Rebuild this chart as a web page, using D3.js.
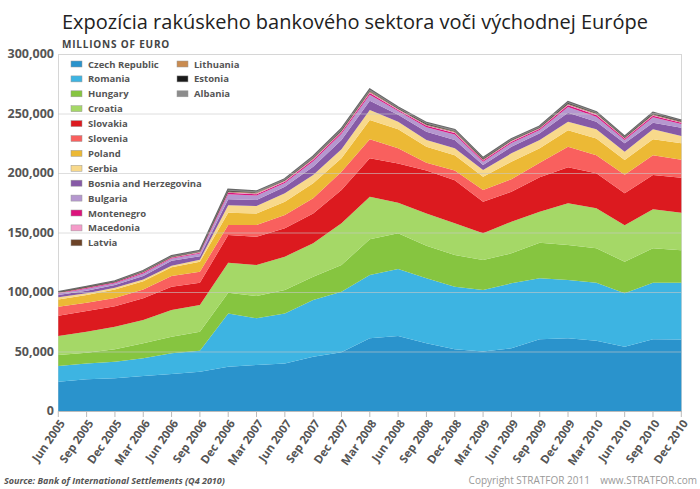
<!DOCTYPE html>
<html>
<head>
<meta charset="utf-8">
<script src="https://cdn.jsdelivr.net/npm/d3@7"></script>
<style>
body { margin: 0; background: #fff; }
svg { display: block; }
</style>
</head>
<body>
<svg id="chart" width="700" height="489"></svg>
<script>
// quarters on the x axis
var quarters = ["Jun 2005", "Sep 2005", "Dec 2005", "Mar 2006", "Jun 2006", "Sep 2006", "Dec 2006",
  "Mar 2007", "Jun 2007", "Sep 2007", "Dec 2007", "Mar 2008", "Jun 2008", "Sep 2008", "Dec 2008",
  "Mar 2009", "Jun 2009", "Sep 2009", "Dec 2009", "Mar 2010", "Jun 2010", "Sep 2010", "Dec 2010"];

// millions of euro
var czech = [24600, 26600, 27500, 29400, 31000, 33000, 37200, 38700, 40000, 45600, 49300, 61100, 63000, 56900, 51800, 49900, 52700, 60200, 61100, 59000, 54000, 60200, 60000];
var romania = [13200, 13400, 13900, 14900, 17500, 17700, 44800, 39200, 42000, 47700, 51000, 53200, 56300, 54600, 52700, 51800, 54600, 51300, 48900, 48800, 44900, 47600, 47800];
var hungary = [9200, 9000, 10400, 12600, 13900, 15900, 17400, 18700, 19700, 19600, 22400, 30000, 30000, 27400, 26500, 25200, 25200, 29900, 29500, 28900, 26600, 28900, 27200];
var croatia = [16000, 17600, 19000, 19600, 22500, 22400, 25200, 26100, 28000, 28000, 35000, 35700, 25700, 27100, 26700, 22400, 26500, 26100, 35000, 33600, 30500, 32800, 31600];
var slovakia = [17000, 17400, 17200, 18200, 19600, 18800, 23300, 23800, 23800, 25100, 28000, 32300, 33000, 36000, 36300, 26600, 25300, 28900, 30300, 29400, 27000, 28800, 29500];
var slovenia = [7700, 7000, 7000, 7300, 8900, 9200, 8400, 9800, 11200, 12700, 15300, 16000, 12700, 6700, 8000, 9800, 10400, 12300, 17200, 15300, 15500, 16700, 15000];
var poland = [6100, 6500, 7000, 7000, 7300, 8500, 10400, 9700, 11200, 12600, 11300, 16200, 16000, 13300, 13000, 11200, 14800, 12000, 14000, 14000, 12400, 13300, 14000];
var serbia = [1700, 1500, 1500, 1500, 1300, 1500, 6300, 6300, 7000, 7000, 7600, 8500, 6300, 5700, 5700, 5600, 7000, 7000, 7000, 7700, 7000, 8400, 6000];
var bosnia = [2000, 2000, 2400, 2900, 4300, 3000, 5000, 5000, 5600, 7000, 7800, 7800, 6000, 7000, 7000, 4200, 5500, 5600, 7600, 6300, 7000, 5500, 7000];
var bulgaria = [1200, 1800, 1500, 2200, 1800, 2300, 4200, 3800, 3200, 4600, 5200, 5000, 3000, 3800, 4600, 2800, 3200, 2800, 4800, 4300, 2800, 4600, 3000];
var montenegro = [400, 500, 500, 700, 600, 700, 1200, 1100, 1000, 1300, 1400, 1500, 1000, 1200, 1300, 1000, 1100, 1000, 1500, 1400, 1000, 1400, 1100];
var macedonia = [200, 300, 300, 300, 300, 400, 500, 500, 500, 600, 600, 600, 500, 500, 600, 500, 500, 500, 600, 600, 500, 600, 500];
var latvia = [100, 200, 200, 200, 200, 200, 300, 300, 300, 300, 400, 400, 300, 300, 300, 300, 300, 300, 400, 300, 300, 300, 300];
var lithuania = [100, 100, 100, 200, 200, 200, 300, 300, 200, 300, 300, 300, 200, 300, 300, 200, 200, 200, 300, 300, 200, 300, 200];
var estonia = [200, 300, 200, 300, 300, 300, 500, 400, 400, 500, 600, 600, 400, 500, 500, 400, 400, 400, 600, 500, 400, 500, 400];
var albania = [300, 300, 300, 500, 500, 600, 1000, 900, 800, 900, 1000, 1000, 800, 900, 1000, 800, 800, 700, 900, 800, 600, 900, 600];

var countries = ["Czech Republic", "Romania", "Hungary", "Croatia", "Slovakia", "Slovenia", "Poland", "Serbia",
  "Bosnia and Herzegovina", "Bulgaria", "Montenegro", "Macedonia", "Latvia", "Lithuania", "Estonia", "Albania"];
var series = [czech, romania, hungary, croatia, slovakia, slovenia, poland, serbia,
  bosnia, bulgaria, montenegro, macedonia, latvia, lithuania, estonia, albania];
var colors = ["#2a93cc", "#3db4e2", "#86c540", "#a5d867", "#dc1a1f", "#f9605e", "#ecb935", "#f8d98b",
  "#865aa6", "#b597cf", "#dc137c", "#f59bc9", "#6b4226", "#c98b50", "#1a1a1a", "#8c8c8c"];

var yTicks = [0, 50000, 100000, 150000, 200000, 250000, 300000];

var rows = quarters.map(function(q, i) {
  var r = {quarter: q};
  countries.forEach(function(c, k) { r[c] = series[k][i]; });
  return r;
});

var svg = d3.select("#chart");
// plot box (window.top is taken, so no plain "top")
var plotL = 58, plotR = 681, plotT = 54, plotB = 411;

var x = d3.scalePoint().domain(quarters).range([plotL + 0.3, plotR + 0.3]);
var y = d3.scaleLinear().domain([0, 300000]).range([plotB, plotT]);

var stacked = d3.stack().keys(countries)(rows);

// frame
svg.append("rect")
  .attr("x", plotL + 0.5).attr("y", plotT + 0.5)
  .attr("width", plotR - plotL).attr("height", plotB - plotT)
  .attr("fill", "none").attr("stroke", "#d6d6d6");

var area = d3.area()
  .x(function(d) { return x(d.data.quarter); })
  .y0(function(d) { return y(d[0]); })
  .y1(function(d) { return y(d[1]); });

// dark edge along the top of the stack
svg.append("path")
  .datum(stacked[stacked.length - 1])
  .attr("fill", "none")
  .attr("stroke", "#666")
  .attr("stroke-width", 2)
  .attr("d", d3.line()
    .x(function(d) { return x(d.data.quarter); })
    .y(function(d) { return y(d[1]); }));

svg.append("g").selectAll("path")
  .data(stacked)
  .enter()
  .append("path")
    .attr("fill", function(d, i) { return colors[i]; })
    .attr("d", area);

// gridlines sit over the areas, faintly
svg.append("g").selectAll("line")
  .data(yTicks.slice(1, -1))
  .enter()
  .append("line")
    .attr("x1", plotL).attr("x2", plotR)
    .attr("y1", function(d) { return y(d) + 0.5; })
    .attr("y2", function(d) { return y(d) + 0.5; })
    .attr("stroke", "#c8c8c8")
    .attr("stroke-opacity", 0.6);

// y axis labels
svg.append("g").selectAll("text")
  .data(yTicks)
  .enter()
  .append("text")
    .attr("x", 54)
    .attr("y", function(d) { return y(d) + 4; })
    .attr("text-anchor", "end")
    .attr("font-family", "Open Sans, sans-serif")
    .attr("font-weight", "bold")
    .attr("font-size", 12.5)
    .attr("fill", "#555")
    .text(function(d) { return d3.format(",")(d); });

// x axis
svg.append("line")
  .attr("x1", plotL).attr("x2", plotR + 1)
  .attr("y1", plotB + 0.5).attr("y2", plotB + 0.5)
  .attr("stroke", "#bbb");

var xg = svg.append("g").selectAll("g")
  .data(quarters)
  .enter()
  .append("g")
    .attr("transform", function(d) { return "translate(" + x(d) + "," + plotB + ")"; });

xg.append("line")
  .attr("y1", 0).attr("y2", 6)
  .attr("stroke", "#bbb");

xg.append("text")
  .attr("transform", "translate(4,10) rotate(-55)")
  .attr("text-anchor", "end")
  .attr("dy", "0.35em")
  .attr("font-family", "Open Sans, sans-serif")
  .attr("font-weight", "bold")
  .attr("font-size", 11.5)
  .attr("fill", "#555")
  .text(function(d) { return d; });

// legend
var legend = svg.append("g").selectAll("g")
  .data(countries)
  .enter()
  .append("g")
    .attr("transform", function(d, i) {
      var col = i < 13 ? 0 : 1;
      var row = i < 13 ? i : i - 13;
      return "translate(" + (71 + col * 106) + "," + (66 + row * 14.9) + ")";
    });

legend.append("rect")
  .attr("x", 0).attr("y", -5)
  .attr("width", 11).attr("height", 6)
  .attr("fill", function(d, i) { return colors[i]; })
  .attr("stroke", "#999")
  .attr("stroke-width", 0.5);

legend.append("text")
  .attr("x", 17).attr("y", 1.5)
  .attr("font-family", "Open Sans, sans-serif")
  .attr("font-weight", "bold")
  .attr("font-size", 9.5)
  .attr("fill", "#555")
  .text(function(d) { return d; });

// title, fitted to its width in the picture
svg.append("text")
  .attr("x", 62).attr("y", 29)
  .attr("font-family", "Open Sans, sans-serif")
  .attr("font-size", 20)
  .attr("fill", "#222")
  .attr("textLength", 586)
  .attr("lengthAdjust", "spacingAndGlyphs")
  .text("Expozícia rakúskeho bankového sektora voči východnej Európe");

svg.append("text")
  .attr("x", 62).attr("y", 48)
  .attr("font-family", "Open Sans, sans-serif")
  .attr("font-weight", "bold")
  .attr("font-size", 10)
  .attr("letter-spacing", 0.8)
  .attr("fill", "#444")
  .text("MILLIONS OF EURO");

// footer
svg.append("text")
  .attr("x", 4).attr("y", 484)
  .attr("font-family", "Open Sans, sans-serif")
  .attr("font-weight", "bold")
  .attr("font-style", "italic")
  .attr("font-size", 9)
  .attr("fill", "#555")
  .text("Source: Bank of International Settlements (Q4 2010)");

svg.append("text")
  .attr("x", 697).attr("y", 484)
  .attr("text-anchor", "end")
  .attr("font-family", "Open Sans, sans-serif")
  .attr("font-size", 10)
  .attr("fill", "#999")
  .attr("xml:space", "preserve")
  .text("Copyright STRATFOR 2011    www.STRATFOR.com");
</script>
</body>
</html>
